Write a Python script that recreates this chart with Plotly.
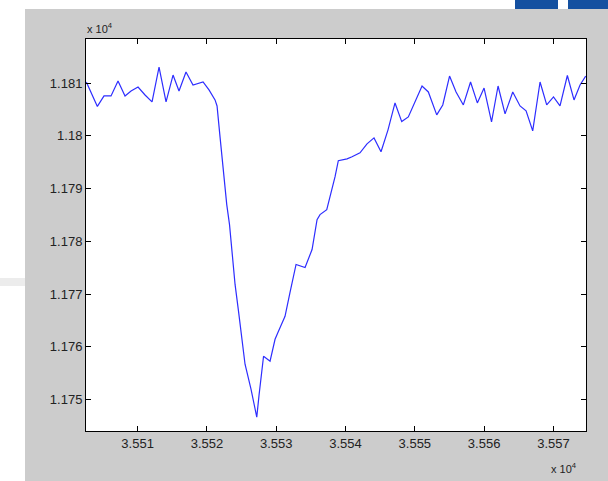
import plotly.graph_objects as go

# data
x_vals = [35502.60, 35504.19, 35505.15, 35506.16, 35507.17, 35508.18, 35509.05, 35510.06,
          35511.07, 35512.08, 35513.09, 35514.10, 35515.11, 35515.97, 35516.98, 35517.99,
          35519.44, 35520.30, 35521.17, 35521.46, 35521.89, 35522.32, 35522.86, 35523.26,
          35523.62, 35524.06, 35524.56, 35525.02, 35525.50, 35526.36, 35527.19, 35527.52,
          35527.88, 35528.17, 35529.11, 35529.83, 35530.26, 35531.27, 35531.99, 35532.86,
          35534.16, 35535.17, 35535.89, 35536.32, 35537.29, 35538.49, 35538.96, 35540.22,
          35540.94, 35542.09, 35543.10, 35544.11, 35545.12, 35546.13, 35547.14, 35548.11,
          35549.06, 35550.03, 35551.04, 35551.95, 35553.16, 35554.03, 35555.01, 35555.95,
          35557.00, 35558.04, 35559.02, 35559.99, 35561.07, 35562.01, 35563.02, 35564.13,
          35565.18, 35566.05, 35567.01, 35568.07, 35569.03, 35570.01, 35570.95, 35572.01,
          35572.97, 35573.84, 35574.66]
y_vals = [11810.19, 11805.56, 11807.54, 11807.54, 11810.38, 11807.54, 11808.49, 11809.24,
          11807.73, 11806.41, 11813.02, 11806.41, 11811.51, 11808.49, 11812.08, 11809.62,
          11810.19, 11808.68, 11806.79, 11805.65, 11799.79, 11793.55, 11786.94, 11783.16,
          11778.43, 11771.81, 11766.71, 11761.42, 11756.69, 11751.97, 11746.67, 11750.83,
          11755.37, 11758.20, 11757.26, 11761.42, 11762.74, 11765.77, 11770.30, 11775.60,
          11775.03, 11778.43, 11784.10, 11785.05, 11785.99, 11792.23, 11795.26, 11795.63,
          11796.01, 11796.77, 11798.47, 11799.60, 11796.96, 11801.12, 11806.22, 11802.68,
          11803.57, 11806.60, 11809.43, 11808.30, 11803.95, 11805.84, 11811.32, 11808.30,
          11805.84, 11810.19, 11806.22, 11809.05, 11802.63, 11809.43, 11804.14, 11808.30,
          11805.65, 11804.71, 11800.93, 11810.19, 11805.84, 11807.35, 11805.65, 11811.42,
          11806.79, 11809.62, 11811.32]

x_tickvals = [35510, 35520, 35530, 35540, 35550, 35560, 35570]
x_ticktext = ["3.551", "3.552", "3.553", "3.554", "3.555", "3.556", "3.557"]
y_tickvals = [11750, 11760, 11770, 11780, 11790, 11800, 11810]
y_ticktext = ["1.175", "1.176", "1.177", "1.178", "1.179", "1.18", "1.181"]

FONT = "Liberation Sans, Arial, sans-serif"
GRAY = "#cccccc"

fig = go.Figure()
fig.add_trace(go.Scatter(x=x_vals, y=y_vals, mode="lines",
                         line=dict(color="rgb(45,45,255)", width=1.2),
                         showlegend=False, hoverinfo="skip"))

shapes = [
    # gray figure background
    dict(type="rect", xref="paper", yref="paper", x0=-0.122, x1=1.1, y0=-0.2, y1=1.0765,
         fillcolor=GRAY, line=dict(width=0), layer="below"),
    # white axes area
    dict(type="rect", xref="paper", yref="paper", x0=0, x1=1, y0=0, y1=1,
         fillcolor="white", line=dict(width=0), layer="below"),
    # faint bar at left page edge
    dict(type="rect", xref="paper", yref="paper", x0=-0.2, x1=-0.122, y0=0.370, y1=0.390,
         fillcolor="#ececec", line=dict(width=0), layer="below"),
    # logo fragments top right
    dict(type="rect", xref="paper", yref="paper", x0=0.858, x1=0.944, y0=1.0765, y1=1.2,
         fillcolor="#1450a0", line=dict(width=0), layer="below"),
    dict(type="rect", xref="paper", yref="paper", x0=0.964, x1=1.1, y0=1.0765, y1=1.2,
         fillcolor="#1450a0", line=dict(width=0), layer="below"),
]

annotations = [
    dict(text="x 10<sup>4</sup>", xref="paper", yref="paper", x=-0.002, y=1.006,
         xanchor="left", yanchor="bottom", showarrow=False,
         font=dict(family=FONT, size=11, color="#222")),
    dict(text="x 10<sup>4</sup>", xref="paper", yref="paper", x=0.926, y=-0.118,
         xanchor="left", yanchor="bottom", showarrow=False,
         font=dict(family=FONT, size=11, color="#222")),
]

axis_common = dict(showline=True, linecolor="black", linewidth=1, mirror="ticks",
                   ticks="inside", ticklen=5, tickcolor="black", tickwidth=1,
                   showgrid=False, zeroline=False,
                   tickfont=dict(family=FONT, size=13, color="#222"))

fig.update_layout(
    width=608, height=481,
    margin=dict(l=86, r=22, t=39, b=50),
    paper_bgcolor="white", plot_bgcolor="white",
    xaxis=dict(range=[35502.55, 35574.70], tickmode="array",
               tickvals=x_tickvals, ticktext=x_ticktext, **axis_common),
    yaxis=dict(range=[11744.03, 11818.34], tickmode="array",
               tickvals=y_tickvals, ticktext=y_ticktext, **axis_common),
    shapes=shapes, annotations=annotations,
)

fig.write_html("out.html", config={"displayModeBar": False},
               post_script="document.body.style.margin='0';document.body.style.padding='0';")
